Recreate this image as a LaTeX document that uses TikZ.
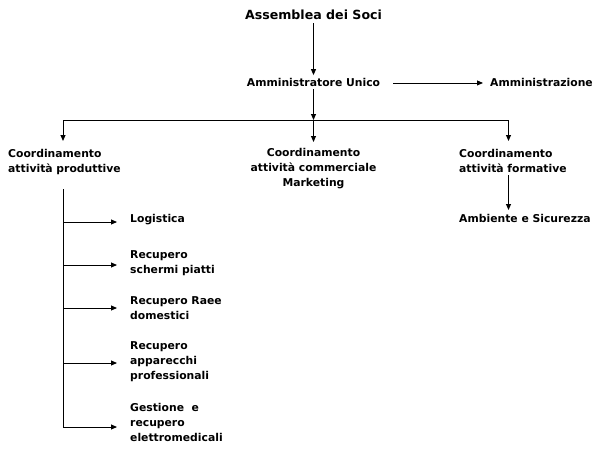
\documentclass[tikz,border=0pt]{standalone}
\usepackage{fontspec}
\setmainfont{DejaVu Sans}
\usetikzlibrary{arrows.meta}
\begin{document}
\begin{tikzpicture}[x=1pt,y=-1pt,
  lbl/.style={font=\bfseries\fontsize{10.8}{15}\selectfont, inner sep=0pt, align=left, anchor=base west},
  lblc/.style={lbl, align=center, anchor=base},
  conn/.style={line width=0.9pt, black},
  arr/.style={conn, -{Triangle[length=6pt,width=5pt]}}]
\useasboundingbox (0,0) rectangle (600,452);
% nodes (anchor = baseline of the last line)
\node[lblc, font=\bfseries\fontsize{12.6}{15}\selectfont] (assem) at (313.5,20) {Assemblea dei Soci};
\node[lblc] (amu) at (313.5,87) {Amministratore Unico};
\node[lbl] (amz) at (490,87) {Amministrazione};
\node[lbl] (cp) at (8,172) {Coordinamento\\attività produttive};
\node[lblc] (cc) at (313.5,186) {Coordinamento\\attività commerciale\\Marketing};
\node[lbl] (cf) at (459,172) {Coordinamento\\attività formative};
\node[lbl] (amb) at (459,222) {Ambiente e Sicurezza};
\node[lbl] (log) at (130,222) {Logistica};
\node[lbl] (rsp) at (130,273) {Recupero\\schermi piatti};
\node[lbl] (rrd) at (130,319) {Recupero Raee\\domestici};
\node[lbl] (rap) at (130,379) {Recupero\\apparecchi\\professionali};
\node[lbl] (gre) at (130,441) {Gestione~ e\\recupero\\elettromedicali};
% junctions
\coordinate (bus) at (313.5,120);
\coordinate (busL) at (63,120);
\coordinate (busR) at (508.5,120);
\coordinate (ttop) at (63,189);
\coordinate (b1) at (63,222);
\coordinate (b2) at (63,265);
\coordinate (b3) at (63,308);
\coordinate (b4) at (63,363);
\coordinate (b5) at (63,427);
\coordinate (ftop) at (508.5,175);
% connectors
\draw[arr] ([yshift=-3pt]assem.south) -- ([yshift=3.5pt]amu.north);
\draw[arr, shorten <=13pt, shorten >=7pt] (amu.east) -- (amz.west);
\draw[arr] ([yshift=-2pt]amu.south) -- (bus);
\draw[conn] (busL) -- (busR);
\draw[arr] (busL) -- (busL |- 0,141);
\draw[arr] (bus) -- (bus |- 0,142);
\draw[arr] (busR) -- (busR |- 0,141);
\draw[arr] (ftop) -- (ftop |- 0,210);
\draw[conn] (ttop) -- (b5);
\foreach \b/\n in {b1/log,b2/rsp,b3/rrd,b4/rap,b5/gre}
  \draw[arr, shorten >=13pt] (\b) -- (\b -| \n.west);
\end{tikzpicture}
\end{document}
